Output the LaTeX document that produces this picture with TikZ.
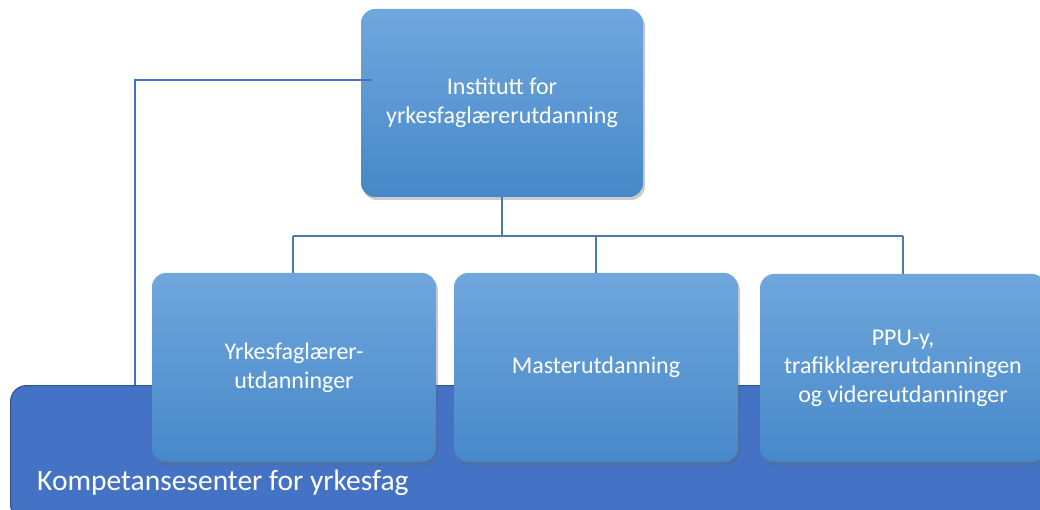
\documentclass[tikz,border=0pt]{standalone}
\usepackage{fontspec}
\setmainfont{Carlito}
\usetikzlibrary{shadows,positioning}
\definecolor{boxtop}{HTML}{6FA7DD}
\definecolor{boxbot}{HTML}{4788C9}
\definecolor{barfill}{HTML}{4472C4}
\definecolor{baredge}{HTML}{2F5597}
\definecolor{linkc}{HTML}{4A7BB0}
\definecolor{sidec}{HTML}{4472C4}
\tikzset{
  orgbox/.style={rectangle, rounded corners=14pt, top color=boxtop, bottom color=boxbot,
    draw=none, text=white, align=center, font=\fontsize{24}{28.5}\selectfont,
    drop shadow={shadow xshift=2pt, shadow yshift=-3pt, opacity=0.35, fill=black!60}},
  barbox/.style={rectangle, rounded corners=16pt, fill=barfill, draw=baredge, line width=1.2pt},
  bartextstyle/.style={inner sep=0pt, text=white, font=\fontsize{29.5}{34}\selectfont},
  link/.style={draw=linkc, line width=2pt},
  sidelink/.style={draw=sidec, line width=2pt},
}
\begin{document}
\begin{tikzpicture}[x=1pt,y=-1pt]
\useasboundingbox (0,0) rectangle (1040,510);
\clip (0,0) rectangle (1040,510);
% top box
\node[orgbox, minimum width=282pt, minimum height=188pt] (top) at (502,103) {Institutt for\\yrkesfaglærerutdanning};
% connectors
\coordinate (side) at (135,80);
\coordinate (sidebot) at (135,390);
\coordinate (fork) at (502,236);
\coordinate (fl) at (293,236);
\coordinate (fm) at (596,236);
\coordinate (fr) at (903,236);
\draw[sidelink] (top.west |- side) ++(11,0) -- (side) -- (sidebot);
\draw[link] (top.south -| fork) -- (fork);
\draw[link] (fl) -- (fr);
% bar
\node[barbox, minimum width=1060pt, minimum height=135pt, anchor=north west] (bar) at (10,385) {};
\node[bartextstyle, anchor=base west] (bartext) at (37,490) {Kompetansesenter for yrkesfag};
% child boxes
\node[orgbox, minimum width=284pt, minimum height=189pt] (c1) at (294,367.5) {Yrkesfaglærer-\\utdanninger};
\node[orgbox, minimum width=284pt, minimum height=189pt] (c2) at (596,367.5) {Masterutdanning};
\node[orgbox, minimum width=286pt, minimum height=188pt] (c3) at (903,368) {PPU-y,\\trafikklærerutdanningen\\og videreutdanninger};
\draw[link] (fl) -- (fl |- c1.north);
\draw[link] (fm) -- (fm |- c2.north);
\draw[link] (fr) -- (fr |- c3.north);
\end{tikzpicture}
\end{document}
